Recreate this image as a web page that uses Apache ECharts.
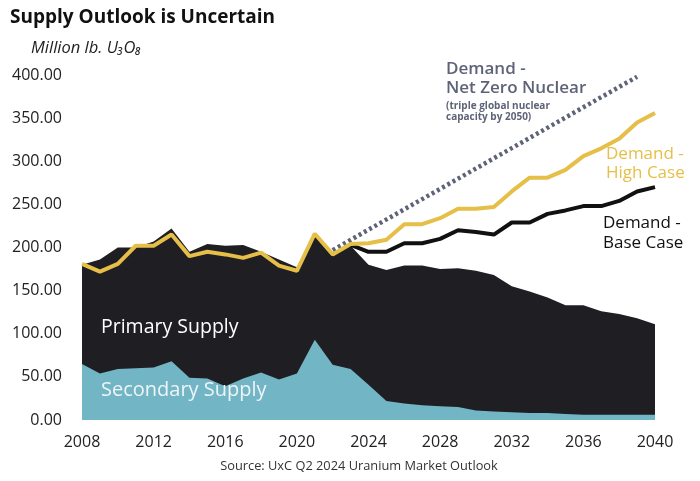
<!DOCTYPE html>
<html>
<head>
<meta charset="utf-8">
<script src="https://cdn.jsdelivr.net/npm/echarts@6/dist/echarts.min.js"></script>
<style>html,body{margin:0;padding:0;background:#fff}#c{width:700px;height:481px}</style>
</head>
<body>
<div id="c"></div>
<script>
const years = [2008,2009,2010,2011,2012,2013,2014,2015,2016,2017,2018,2019,2020,2021,2022,2023,2024,2025,2026,2027,2028,2029,2030,2031,2032,2033,2034,2035,2036,2037,2038,2039,2040];
const totalSupply = [180,186,200,200,207,222,195,204,202,203,195,186,177,214,192,202,180,174,179,179,175,176,173,168,155,149,142,133,133,126,123,118,111];
const secondarySupply = [65,54,59,60,61,68,49,48,39,48,55,47,54,93,64,59,41,22,19,17,16,15,11,10,9,8,8,7,6,6,6,6,6];
const demandHigh = [181,172,181,202,202,215,190,195,192,188,194,179,173,216,192,204,205,209,227,227,234,245,245,247,265,281,281,290,306,315,326,345,356];
const baseYears = [2023,2024,2025,2026,2027,2028,2029,2030,2031,2032,2033,2034,2035,2036,2037,2038,2039,2040];
const demandBase = [203,195,195,205,205,210,220,218,215,229,229,239,243,248,248,254,265,270];
const netZeroYears = [2022,2039];
const netZero = [197,398];
const yTicks = [0,50,100,150,200,250,300,350,400];

const pair = (xs, vs) => xs.map((x, i) => [x, vs[i]]);
const FONT = 'Open Sans';

const chart = echarts.init(document.getElementById('c'));
chart.setOption({
  animation: false,
  textStyle: { fontFamily: FONT },
  title: {
    text: 'Supply Outlook is Uncertain',
    left: 5, top: 3,
    textStyle: { fontFamily: FONT, fontSize: 19, fontWeight: 'bold', color: '#111' }
  },
  grid: { left: 82, right: 45, top: 75, bottom: 61 },
  xAxis: {
    type: 'value', min: 2008, max: 2040, interval: 4,
    axisLine: { show: false }, axisTick: { show: false }, splitLine: { show: false },
    axisLabel: { fontSize: 16, color: '#222', margin: 14, showMinLabel: true, showMaxLabel: true, formatter: v => String(v) }
  },
  yAxis: {
    type: 'value', min: yTicks[0], max: yTicks[yTicks.length - 1], interval: 50,
    axisLine: { show: false }, axisTick: { show: false }, splitLine: { show: false },
    axisLabel: { fontSize: 16, color: '#222', margin: 20, formatter: v => v.toFixed(2) }
  },
  series: [
    {
      type: 'line', name: 'Primary Supply', data: pair(years, totalSupply),
      symbol: 'none', lineStyle: { width: 0 }, areaStyle: { color: '#1f1e23', opacity: 1 }, z: 1
    },
    {
      type: 'line', name: 'Secondary Supply', data: pair(years, secondarySupply),
      symbol: 'none', lineStyle: { width: 0 }, areaStyle: { color: '#72b5c5', opacity: 1 }, z: 2
    },
    {
      type: 'line', name: 'Demand - Net Zero Nuclear', data: pair(netZeroYears, netZero),
      symbol: 'none', lineStyle: { width: 4.5, color: '#5e6378', type: [3, 3] }, z: 3
    },
    {
      type: 'line', name: 'Demand - Base Case', data: pair(baseYears, demandBase),
      symbol: 'none', lineStyle: { width: 4, color: '#111' }, z: 4
    },
    {
      type: 'line', name: 'Demand - High Case', data: pair(years, demandHigh),
      symbol: 'none', lineStyle: { width: 4, color: '#e5bf47' }, z: 5
    }
  ],
  graphic: [
    { type: 'text', left: 31, top: 40, style: { text: 'Million lb. U₃O₈', fontFamily: FONT, fontStyle: 'italic', fontSize: 16.5, fill: '#222' } },
    { type: 'text', left: 446, top: 60, style: { text: 'Demand -\nNet Zero Nuclear', fontFamily: FONT, fontSize: 17, fontWeight: 600, lineHeight: 19, fill: '#5e6378' } },
    { type: 'text', left: 446, top: 101, style: { text: '(triple global nuclear\ncapacity by 2050)', fontFamily: FONT, fontSize: 10, fontWeight: 'bold', lineHeight: 11, fill: '#5e6378' } },
    { type: 'text', left: 606, top: 145, style: { text: 'Demand -\nHigh Case', fontFamily: FONT, fontSize: 17, lineHeight: 19, fill: '#e5bf47' } },
    { type: 'text', left: 603, top: 213, style: { text: 'Demand -\nBase Case', fontFamily: FONT, fontSize: 17, lineHeight: 20, fill: '#111' } },
    { type: 'text', left: 101, top: 317, z: 10, style: { text: 'Primary Supply', fontFamily: FONT, fontSize: 19.5, fill: '#fff' } },
    { type: 'text', left: 101, top: 380, z: 10, style: { text: 'Secondary Supply', fontFamily: FONT, fontSize: 20, fill: '#eef5f7' } },
    { type: 'text', x: 359, y: 466, style: { text: 'Source: UxC Q2 2024 Uranium Market Outlook', fontFamily: FONT, fontSize: 12.8, fill: '#333', align: 'center', verticalAlign: 'middle' } }
  ]
});
</script>
</body>
</html>
